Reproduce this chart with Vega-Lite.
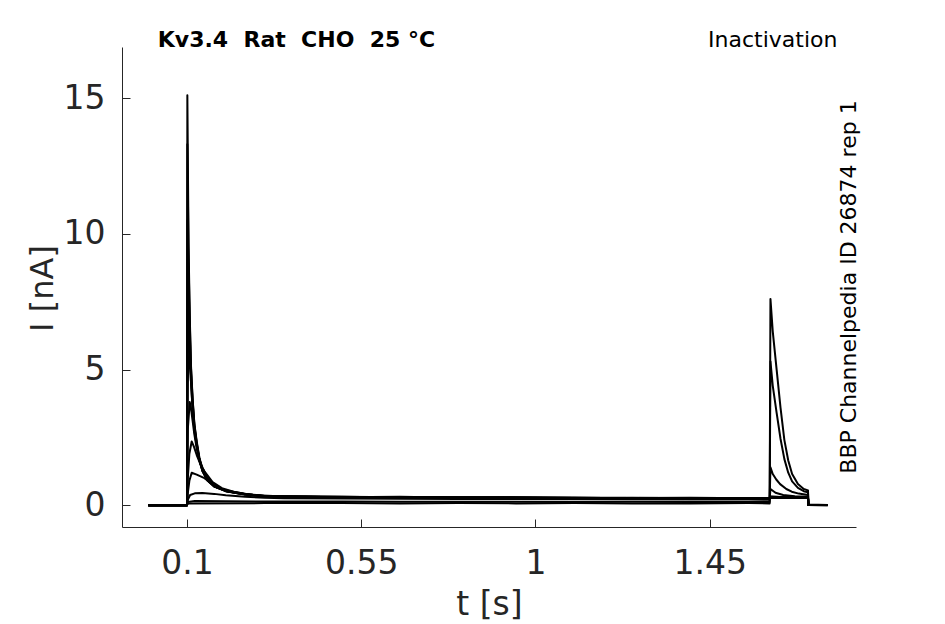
{
  "$schema": "https://vega.github.io/schema/vega-lite/v6.json",
  "width": 734,
  "height": 480,
  "autosize": "none",
  "padding": {"left": 122, "top": 47, "right": 89, "bottom": 97},
  "config": {"view": {"stroke": null}, "font": "DejaVu Sans"},
  "layer": [
    {
      "data": {"values": [
        {"k":11,"t":0,"i":0},{"k":11,"t":0.1,"i":0},{"k":11,"t":0.1008,"i":15.1},{"k":11,"t":0.1025,"i":12},{"k":11,"t":0.104,"i":9.5},{"k":11,"t":0.107,"i":7},{"k":11,"t":0.11,"i":5.2},{"k":11,"t":0.1145,"i":3.9},{"k":11,"t":0.119,"i":3.0},{"k":11,"t":0.125,"i":2.35},{"k":11,"t":0.132,"i":1.75},{"k":11,"t":0.14,"i":1.3},{"k":11,"t":0.153,"i":0.95},{"k":11,"t":0.17,"i":0.72},{"k":11,"t":0.2,"i":0.55},{"k":11,"t":0.25,"i":0.42},{"k":11,"t":0.3,"i":0.34},
        {"k":11,"t":0.35,"i":0.33},{"k":11,"t":0.5,"i":0.31},{"k":11,"t":0.65,"i":0.3},{"k":11,"t":0.8,"i":0.29},{"k":11,"t":0.95,"i":0.3},{"k":11,"t":1.1,"i":0.28},{"k":11,"t":1.25,"i":0.27},{"k":11,"t":1.4,"i":0.28},{"k":11,"t":1.55,"i":0.26},{"k":11,"t":1.605,"i":0.26},
        {"k":11,"t":1.607,"i":0.32},{"k":11,"t":1.65,"i":0.3},{"k":11,"t":1.704,"i":0.29},{"k":11,"t":1.705,"i":0.01},{"k":11,"t":1.755,"i":0.01},

        {"k":10,"t":0,"i":0},{"k":10,"t":0.1,"i":0},{"k":10,"t":0.1008,"i":13.3},{"k":10,"t":0.1025,"i":11},{"k":10,"t":0.104,"i":9},{"k":10,"t":0.107,"i":6.8},{"k":10,"t":0.11,"i":5.1},{"k":10,"t":0.1145,"i":3.85},{"k":10,"t":0.119,"i":2.95},{"k":10,"t":0.125,"i":2.3},{"k":10,"t":0.132,"i":1.7},{"k":10,"t":0.14,"i":1.28},{"k":10,"t":0.153,"i":0.93},{"k":10,"t":0.17,"i":0.7},{"k":10,"t":0.2,"i":0.53},{"k":10,"t":0.25,"i":0.41},{"k":10,"t":0.3,"i":0.34},
        {"k":10,"t":0.35,"i":0.32},{"k":10,"t":0.5,"i":0.3},{"k":10,"t":0.65,"i":0.31},{"k":10,"t":0.8,"i":0.28},{"k":10,"t":0.95,"i":0.29},{"k":10,"t":1.1,"i":0.27},{"k":10,"t":1.25,"i":0.28},{"k":10,"t":1.4,"i":0.26},{"k":10,"t":1.55,"i":0.27},{"k":10,"t":1.605,"i":0.26},
        {"k":10,"t":1.607,"i":0.31},{"k":10,"t":1.65,"i":0.3},{"k":10,"t":1.704,"i":0.28},{"k":10,"t":1.705,"i":0.01},{"k":10,"t":1.755,"i":0},

        {"k":9,"t":0,"i":0},{"k":9,"t":0.1,"i":0},{"k":9,"t":0.1012,"i":10.5},{"k":9,"t":0.1025,"i":9.6},{"k":9,"t":0.104,"i":8.3},{"k":9,"t":0.107,"i":6.4},{"k":9,"t":0.11,"i":4.9},{"k":9,"t":0.1145,"i":3.75},{"k":9,"t":0.119,"i":2.9},{"k":9,"t":0.125,"i":2.25},{"k":9,"t":0.132,"i":1.68},{"k":9,"t":0.14,"i":1.27},{"k":9,"t":0.153,"i":0.92},{"k":9,"t":0.17,"i":0.7},{"k":9,"t":0.2,"i":0.53},{"k":9,"t":0.25,"i":0.41},{"k":9,"t":0.3,"i":0.33},
        {"k":9,"t":0.35,"i":0.33},{"k":9,"t":0.5,"i":0.31},{"k":9,"t":0.65,"i":0.29},{"k":9,"t":0.8,"i":0.3},{"k":9,"t":0.95,"i":0.28},{"k":9,"t":1.1,"i":0.28},{"k":9,"t":1.25,"i":0.26},{"k":9,"t":1.4,"i":0.27},{"k":9,"t":1.55,"i":0.26},{"k":9,"t":1.605,"i":0.25},
        {"k":9,"t":1.607,"i":0.3},{"k":9,"t":1.65,"i":0.29},{"k":9,"t":1.704,"i":0.28},{"k":9,"t":1.705,"i":0.02},{"k":9,"t":1.755,"i":0.01},

        {"k":8,"t":0,"i":0},{"k":8,"t":0.1,"i":0},{"k":8,"t":0.1025,"i":7.3},{"k":8,"t":0.104,"i":6.8},{"k":8,"t":0.107,"i":5.7},{"k":8,"t":0.11,"i":4.6},{"k":8,"t":0.1145,"i":3.55},{"k":8,"t":0.119,"i":2.8},{"k":8,"t":0.125,"i":2.2},{"k":8,"t":0.132,"i":1.65},{"k":8,"t":0.14,"i":1.25},{"k":8,"t":0.153,"i":0.9},{"k":8,"t":0.17,"i":0.69},{"k":8,"t":0.2,"i":0.52},{"k":8,"t":0.25,"i":0.4},{"k":8,"t":0.3,"i":0.33},
        {"k":8,"t":0.35,"i":0.32},{"k":8,"t":0.5,"i":0.3},{"k":8,"t":0.65,"i":0.3},{"k":8,"t":0.8,"i":0.28},{"k":8,"t":0.95,"i":0.29},{"k":8,"t":1.1,"i":0.27},{"k":8,"t":1.25,"i":0.27},{"k":8,"t":1.4,"i":0.26},{"k":8,"t":1.55,"i":0.25},{"k":8,"t":1.605,"i":0.25},
        {"k":8,"t":1.607,"i":0.3},{"k":8,"t":1.65,"i":0.29},{"k":8,"t":1.704,"i":0.28},{"k":8,"t":1.705,"i":0.01},{"k":8,"t":1.755,"i":0.01},

        {"k":7,"t":0,"i":0},{"k":7,"t":0.1,"i":0},{"k":7,"t":0.1015,"i":4.5},{"k":7,"t":0.106,"i":5.7},{"k":7,"t":0.108,"i":5.3},{"k":7,"t":0.11,"i":4.6},{"k":7,"t":0.1145,"i":3.5},{"k":7,"t":0.119,"i":2.75},{"k":7,"t":0.125,"i":2.2},{"k":7,"t":0.132,"i":1.65},{"k":7,"t":0.14,"i":1.26},{"k":7,"t":0.153,"i":0.92},{"k":7,"t":0.17,"i":0.7},{"k":7,"t":0.2,"i":0.52},{"k":7,"t":0.25,"i":0.4},{"k":7,"t":0.3,"i":0.33},
        {"k":7,"t":0.35,"i":0.31},{"k":7,"t":0.5,"i":0.3},{"k":7,"t":0.65,"i":0.29},{"k":7,"t":0.8,"i":0.29},{"k":7,"t":0.95,"i":0.27},{"k":7,"t":1.1,"i":0.28},{"k":7,"t":1.25,"i":0.26},{"k":7,"t":1.4,"i":0.26},{"k":7,"t":1.55,"i":0.25},{"k":7,"t":1.605,"i":0.24},
        {"k":7,"t":1.607,"i":0.29},{"k":7,"t":1.65,"i":0.28},{"k":7,"t":1.704,"i":0.27},{"k":7,"t":1.705,"i":0.01},{"k":7,"t":1.755,"i":0},

        {"k":6,"t":0,"i":0},{"k":6,"t":0.1,"i":0},{"k":6,"t":0.102,"i":2.8},{"k":6,"t":0.107,"i":3.8},{"k":6,"t":0.11,"i":3.6},{"k":6,"t":0.1145,"i":3.1},{"k":6,"t":0.119,"i":2.6},{"k":6,"t":0.125,"i":2.1},{"k":6,"t":0.132,"i":1.7},{"k":6,"t":0.14,"i":1.38},{"k":6,"t":0.153,"i":1.0},{"k":6,"t":0.17,"i":0.74},{"k":6,"t":0.2,"i":0.54},{"k":6,"t":0.25,"i":0.41},{"k":6,"t":0.3,"i":0.33},
        {"k":6,"t":0.35,"i":0.31},{"k":6,"t":0.5,"i":0.29},{"k":6,"t":0.65,"i":0.29},{"k":6,"t":0.8,"i":0.28},{"k":6,"t":0.95,"i":0.28},{"k":6,"t":1.1,"i":0.26},{"k":6,"t":1.25,"i":0.27},{"k":6,"t":1.4,"i":0.25},{"k":6,"t":1.55,"i":0.25},{"k":6,"t":1.605,"i":0.24},
        {"k":6,"t":1.607,"i":0.29},{"k":6,"t":1.65,"i":0.28},{"k":6,"t":1.704,"i":0.27},{"k":6,"t":1.705,"i":0.01},{"k":6,"t":1.755,"i":0.01},

        {"k":5,"t":0,"i":0},{"k":5,"t":0.1,"i":0},{"k":5,"t":0.102,"i":1.0},{"k":5,"t":0.106,"i":1.9},{"k":5,"t":0.112,"i":2.35},{"k":5,"t":0.118,"i":2.15},{"k":5,"t":0.125,"i":1.85},{"k":5,"t":0.135,"i":1.5},{"k":5,"t":0.145,"i":1.25},{"k":5,"t":0.166,"i":0.85},{"k":5,"t":0.19,"i":0.63},{"k":5,"t":0.22,"i":0.5},{"k":5,"t":0.26,"i":0.4},{"k":5,"t":0.3,"i":0.34},
        {"k":5,"t":0.35,"i":0.3},{"k":5,"t":0.5,"i":0.29},{"k":5,"t":0.65,"i":0.28},{"k":5,"t":0.8,"i":0.28},{"k":5,"t":0.95,"i":0.27},{"k":5,"t":1.1,"i":0.26},{"k":5,"t":1.25,"i":0.26},{"k":5,"t":1.4,"i":0.25},{"k":5,"t":1.55,"i":0.24},{"k":5,"t":1.605,"i":0.24},
        {"k":5,"t":1.607,"i":0.3},{"k":5,"t":1.65,"i":0.28},{"k":5,"t":1.704,"i":0.27},{"k":5,"t":1.705,"i":0.01},{"k":5,"t":1.755,"i":0.01},

        {"k":4,"t":0,"i":0},{"k":4,"t":0.1,"i":0},{"k":4,"t":0.102,"i":0.45},{"k":4,"t":0.106,"i":0.9},{"k":4,"t":0.112,"i":1.2},{"k":4,"t":0.125,"i":1.13},{"k":4,"t":0.145,"i":1.0},{"k":4,"t":0.177,"i":0.66},{"k":4,"t":0.2,"i":0.53},{"k":4,"t":0.23,"i":0.44},{"k":4,"t":0.28,"i":0.37},
        {"k":4,"t":0.35,"i":0.32},{"k":4,"t":0.5,"i":0.3},{"k":4,"t":0.65,"i":0.29},{"k":4,"t":0.8,"i":0.28},{"k":4,"t":0.95,"i":0.27},{"k":4,"t":1.1,"i":0.27},{"k":4,"t":1.25,"i":0.26},{"k":4,"t":1.4,"i":0.25},{"k":4,"t":1.55,"i":0.25},{"k":4,"t":1.605,"i":0.24},
        {"k":4,"t":1.607,"i":0.6},{"k":4,"t":1.62,"i":0.46},{"k":4,"t":1.64,"i":0.38},{"k":4,"t":1.67,"i":0.33},{"k":4,"t":1.704,"i":0.31},{"k":4,"t":1.705,"i":0.02},{"k":4,"t":1.755,"i":0.01},

        {"k":3,"t":0,"i":0},{"k":3,"t":0.1,"i":0},{"k":3,"t":0.102,"i":0.2},{"k":3,"t":0.108,"i":0.38},{"k":3,"t":0.12,"i":0.44},{"k":3,"t":0.14,"i":0.45},{"k":3,"t":0.17,"i":0.42},{"k":3,"t":0.2,"i":0.37},{"k":3,"t":0.25,"i":0.31},{"k":3,"t":0.3,"i":0.28},
        {"k":3,"t":0.35,"i":0.26},{"k":3,"t":0.5,"i":0.25},{"k":3,"t":0.65,"i":0.24},{"k":3,"t":0.8,"i":0.23},{"k":3,"t":0.95,"i":0.23},{"k":3,"t":1.1,"i":0.22},{"k":3,"t":1.25,"i":0.22},{"k":3,"t":1.4,"i":0.21},{"k":3,"t":1.55,"i":0.21},{"k":3,"t":1.605,"i":0.2},
        {"k":3,"t":1.607,"i":1.4},{"k":3,"t":1.613,"i":1.15},{"k":3,"t":1.622,"i":0.95},{"k":3,"t":1.632,"i":0.78},{"k":3,"t":1.648,"i":0.6},{"k":3,"t":1.662,"i":0.5},{"k":3,"t":1.68,"i":0.43},{"k":3,"t":1.704,"i":0.38},{"k":3,"t":1.705,"i":0.02},{"k":3,"t":1.755,"i":0.01},

        {"k":2,"t":0,"i":0},{"k":2,"t":0.1,"i":0},{"k":2,"t":0.102,"i":0.12},{"k":2,"t":0.12,"i":0.16},{"k":2,"t":0.2,"i":0.15},{"k":2,"t":0.3,"i":0.14},
        {"k":2,"t":0.35,"i":0.14},{"k":2,"t":0.5,"i":0.14},{"k":2,"t":0.65,"i":0.13},{"k":2,"t":0.8,"i":0.13},{"k":2,"t":0.95,"i":0.13},{"k":2,"t":1.1,"i":0.12},{"k":2,"t":1.25,"i":0.13},{"k":2,"t":1.4,"i":0.12},{"k":2,"t":1.55,"i":0.12},{"k":2,"t":1.605,"i":0.12},
        {"k":2,"t":1.607,"i":5.3},{"k":2,"t":1.613,"i":4.4},{"k":2,"t":1.623,"i":3.4},{"k":2,"t":1.633,"i":2.45},{"k":2,"t":1.643,"i":1.7},{"k":2,"t":1.653,"i":1.2},{"k":2,"t":1.663,"i":0.88},{"k":2,"t":1.678,"i":0.64},{"k":2,"t":1.693,"i":0.52},{"k":2,"t":1.704,"i":0.48},{"k":2,"t":1.705,"i":0.02},{"k":2,"t":1.755,"i":0.01},

        {"k":1,"t":0,"i":0},{"k":1,"t":0.1,"i":0},{"k":1,"t":0.101,"i":0.07},{"k":1,"t":0.3,"i":0.08},
        {"k":1,"t":0.35,"i":0.08},{"k":1,"t":0.5,"i":0.08},{"k":1,"t":0.65,"i":0.07},{"k":1,"t":0.8,"i":0.08},{"k":1,"t":0.95,"i":0.07},{"k":1,"t":1.1,"i":0.08},{"k":1,"t":1.25,"i":0.07},{"k":1,"t":1.4,"i":0.07},{"k":1,"t":1.55,"i":0.08},{"k":1,"t":1.605,"i":0.07},
        {"k":1,"t":1.607,"i":7.6},{"k":1,"t":1.613,"i":6.4},{"k":1,"t":1.623,"i":5.0},{"k":1,"t":1.633,"i":3.6},{"k":1,"t":1.643,"i":2.4},{"k":1,"t":1.653,"i":1.65},{"k":1,"t":1.663,"i":1.15},{"k":1,"t":1.678,"i":0.78},{"k":1,"t":1.693,"i":0.6},{"k":1,"t":1.704,"i":0.55},{"k":1,"t":1.705,"i":0.03},{"k":1,"t":1.755,"i":0.01}
      ]},
      "mark": {"type": "line", "color": "black", "strokeWidth": 2, "strokeJoin": "round"},
      "encoding": {
        "x": {
          "field": "t", "type": "quantitative",
          "scale": {"domain": [-0.068, 1.828], "nice": false, "zero": false},
          "axis": {
            "values": [0.1, 0.55, 1, 1.45], "format": ".3~g", "title": "t [s]",
            "grid": false, "tickSize": -8, "labelPadding": 28, "labelFlush": false, "labelOverlap": false,
            "labelFont": "DejaVu Sans", "labelFontSize": 33, "titleFont": "DejaVu Sans", "titleFontSize": 33, "titleFontWeight": "normal",
            "titleY": 77, "titleBaseline": "middle",
            "labelColor": "#262626", "titleColor": "#262626", "domainColor": "#262626", "tickColor": "#262626"
          }
        },
        "y": {
          "field": "i", "type": "quantitative",
          "scale": {"domain": [-0.8, 16.88], "nice": false, "zero": false},
          "axis": {
            "values": [0, 5, 10, 15], "title": "I [nA]",
            "grid": false, "tickSize": -8, "labelPadding": 25, "labelFlush": false, "labelOverlap": false,
            "labelFont": "DejaVu Sans", "labelFontSize": 33, "titleFont": "DejaVu Sans", "titleFontSize": 32, "titleFontWeight": "normal",
            "titleX": -80, "titleY": 241, "titleAngle": 270, "titleAlign": "center", "titleBaseline": "middle",
            "labelColor": "#262626", "titleColor": "#262626", "domainColor": "#262626", "tickColor": "#262626"
          }
        },
        "detail": {"field": "k"}
      }
    },
    {
      "data": {"values": [{"t": 0.0244, "i": 16.88, "txt": "Kv3.4\u00a0\u00a0Rat\u00a0\u00a0CHO\u00a0\u00a025 °C"}]},
      "mark": {"type": "text", "align": "left", "baseline": "alphabetic", "fontSize": 22, "fontWeight": "bold", "font": "DejaVu Sans", "color": "black"},
      "encoding": {
        "x": {"field": "t", "type": "quantitative"},
        "y": {"field": "i", "type": "quantitative"},
        "text": {"field": "txt"}
      }
    },
    {
      "data": {"values": [{"t": 1.78, "i": 16.88, "txt": "Inactivation"}]},
      "mark": {"type": "text", "align": "right", "baseline": "alphabetic", "fontSize": 22, "font": "DejaVu Sans", "color": "black"},
      "encoding": {
        "x": {"field": "t", "type": "quantitative"},
        "y": {"field": "i", "type": "quantitative"},
        "text": {"field": "txt"}
      }
    },
    {
      "data": {"values": [{"t": 1.81, "i": 8.04, "txt": "BBP Channelpedia ID 26874 rep 1"}]},
      "mark": {"type": "text", "align": "center", "baseline": "middle", "angle": 270, "fontSize": 22, "font": "DejaVu Sans", "color": "black"},
      "encoding": {
        "x": {"field": "t", "type": "quantitative"},
        "y": {"field": "i", "type": "quantitative"},
        "text": {"field": "txt"}
      }
    }
  ]
}
